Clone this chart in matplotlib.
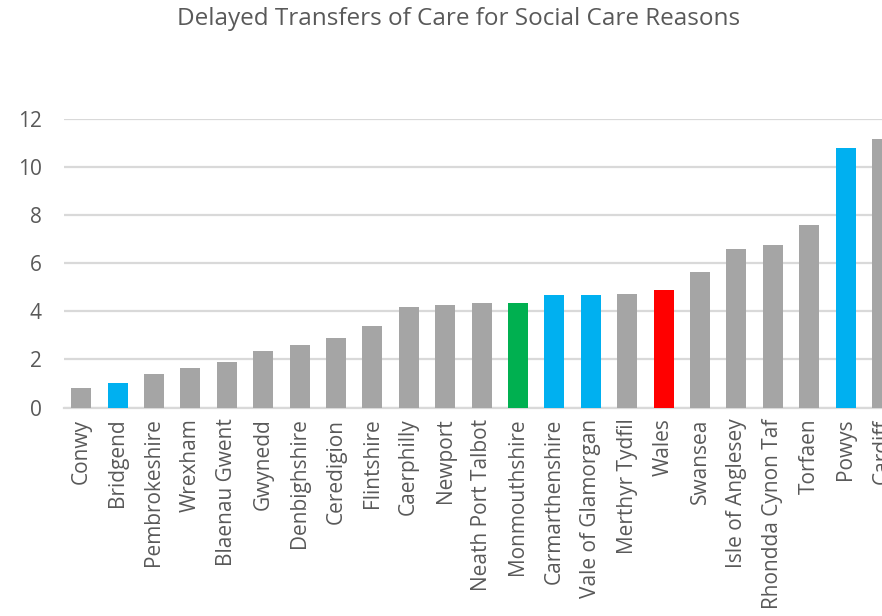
import matplotlib.pyplot as plt
import numpy as np

plt.rcParams['font.family'] = ['Open Sans', 'DejaVu Sans']

# values
areas = ["Conwy", "Bridgend", "Pembrokeshire", "Wrexham", "Blaenau Gwent",
         "Gwynedd", "Denbighshire", "Ceredigion", "Flintshire", "Caerphilly",
         "Newport", "Neath Port Talbot", "Monmouthshire", "Carmarthenshire",
         "Vale of Glamorgan", "Merthyr Tydfil", "Wales", "Swansea",
         "Isle of Anglesey", "Rhondda Cynon Taf", "Torfaen", "Powys", "Cardiff"]
values = [0.80, 1.02, 1.41, 1.63, 1.91, 2.36, 2.59, 2.90, 3.38, 4.18,
          4.28, 4.35, 4.35, 4.68, 4.68, 4.72, 4.89, 5.64, 6.61, 6.77,
          7.59, 10.79, 11.17]

# highlight groups
blue_areas = ["Bridgend", "Carmarthenshire", "Vale of Glamorgan", "Powys"]
green_areas = ["Monmouthshire"]
red_areas = ["Wales"]

grey = '#a5a5a5'
text_col = '#595959'
grid_col = '#d9d9d9'

colours = []
for a in areas:
    if a in blue_areas:
        colours.append('#00b0f0')
    elif a in green_areas:
        colours.append('#00b050')
    elif a in red_areas:
        colours.append('#ff0000')
    else:
        colours.append(grey)

fig = plt.figure(figsize=(8.82, 6.16), dpi=100)
ax = fig.add_axes([64 / 882, 1 - 407.5 / 616, 1 - 64 / 882, (407.5 - 119) / 616])

x = np.arange(len(areas))
ax.bar(x, values, width=0.55, color=colours, zorder=3)

ax.set_ylim(0, 12)
ax.set_xlim(-0.47, 21.0)
ax.set_yticks(np.arange(0, 13, 2))
ax.yaxis.grid(True, color=grid_col, linewidth=1.6, zorder=0)
ax.set_xticks(x)
ax.set_xticklabels(areas, rotation=90)

for s in ['top', 'right', 'left']:
    ax.spines[s].set_visible(False)
ax.spines['bottom'].set_color(grid_col)
ax.spines['bottom'].set_linewidth(1.6)

ax.tick_params(axis='y', length=0, pad=16, labelsize=15, labelcolor=text_col)
ax.tick_params(axis='x', length=0, pad=8, labelsize=15, labelcolor=text_col)

fig.text(459 / 882, 1 - 19 / 616, 'Delayed Transfers of Care for Social Care Reasons',
         ha='center', va='center', fontsize=17.5, color=text_col)

fig.savefig('out.png', dpi=100)
